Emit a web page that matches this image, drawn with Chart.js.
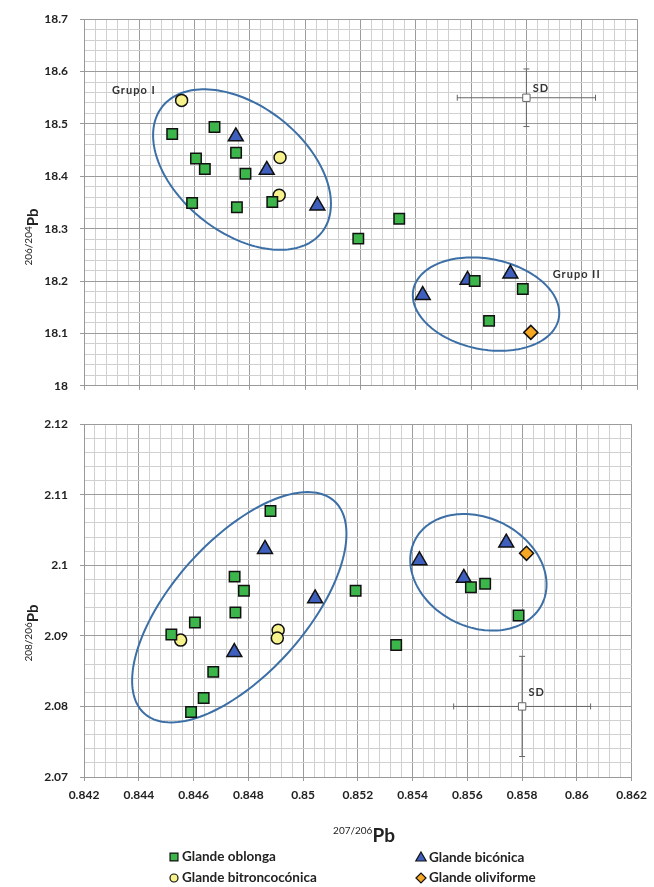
<!DOCTYPE html>
<html>
<head>
<meta charset="utf-8">
<script src="https://cdn.jsdelivr.net/npm/chart.js@4.4.0/dist/chart.umd.min.js"></script>
<style>
  body { margin: 0; background: #fff; }
  #wrap { position: relative; width: 654px; height: 887px; }
  canvas { position: absolute; left: 0; }
  #topChart { top: 0; }
  #bottomChart { top: 405px; }
</style>
</head>
<body>
<div id="wrap">
  <canvas id="topChart" width="654" height="405"></canvas>
  <canvas id="bottomChart" width="654" height="482"></canvas>
</div>
<script>
// ---- data: 207/206Pb (shared by both panels), 206/204Pb (top), 208/206Pb (bottom)
var oblongaX   = [0.84519, 0.84672, 0.84750, 0.84605, 0.84637, 0.84784, 0.84881, 0.84591, 0.84753, 0.85340, 0.85192, 0.85613, 0.85787, 0.85665];
var oblongaTop = [18.481, 18.494, 18.445, 18.434, 18.414, 18.405, 18.351, 18.349, 18.341, 18.319, 18.281, 18.200, 18.185, 18.124];
var oblongaBot = [2.0902, 2.0849, 2.0984, 2.0919, 2.0812, 2.0964, 2.1077, 2.0792, 2.0933, 2.0887, 2.0964, 2.0969, 2.0929, 2.0974];

var biconicaX   = [0.84749, 0.84861, 0.85044, 0.85587, 0.85742, 0.85425];
var biconicaTop = [18.476, 18.412, 18.344, 18.202, 18.214, 18.173];
var biconicaBot = [2.0877, 2.1023, 2.0953, 2.0982, 2.1032, 2.1007];

var bitroncoX   = [0.84553, 0.84909, 0.84906];
var bitroncoTop = [18.545, 18.436, 18.364];
var bitroncoBot = [2.0894, 2.0908, 2.0897];

var oliviX   = [0.85816];
var oliviTop = [18.102];
var oliviBot = [2.1017];

// standard deviation cross
var sdX = 0.858, sdErrX = 0.0025;
var sdTopY = 18.55, sdTopErr = 0.055;
var sdBotY = 2.08, sdBotErr = 0.0071;

// group ellipses: centre and the ends of two half axes, in data units
var ellipsesTop = [
  { c: [0.847715, 18.4129], u: [0.850569, 18.2909], v: [0.846232, 18.3202] },
  { c: [0.856540, 18.1560], u: [0.859166, 18.1278], v: [0.856200, 18.0714] }
];
var ellipsesBot = [
  { c: [0.847671, 2.094056], u: [0.851126, 2.109153], v: [0.849509, 2.087847] },
  { c: [0.856403, 2.099014], u: [0.858711, 2.094389], v: [0.855473, 2.092167] }
];

var notesTop = [
  { text: 'Grupo I', x: 0.84301, y: 18.564 },
  { text: 'Grupo II', x: 0.85895, y: 18.213 },
  { text: 'SD', x: 0.85823, y: 18.568 }
];
var notesBot = [
  { text: 'SD', x: 0.85823, y: 2.08204 }
];

var GREEN = '#3cb54a', BLUE = '#3f5fbf', YELLOW = '#f8f28c', ORANGE = '#f5a623';
var FONT = 'Lato, "Open Sans", sans-serif';
var MAJOR = '#9c9c9c', MINOR = '#d0d0d0';

function isMajor(v, step) {
  var r = v / step;
  return Math.abs(r - Math.round(r)) < 1e-6;
}

function pts(xs, ys) {
  return xs.map(function(x, i) { return { x: x, y: ys[i] }; });
}

function series(label, xs, ys, style, color, radius) {
  return {
    label: label,
    data: pts(xs, ys),
    pointStyle: style,
    pointRadius: radius,
    pointHoverRadius: radius,
    pointBackgroundColor: color,
    pointBorderColor: '#111',
    pointBorderWidth: 1.5
  };
}

function drawSup(ctx, x, y, sup, main, supSize, mainSize, rotated) {
  ctx.save();
  ctx.translate(x, y);
  if (rotated) ctx.rotate(-Math.PI / 2);
  ctx.fillStyle = '#222';
  ctx.textBaseline = 'alphabetic';
  ctx.textAlign = 'left';
  var supFont = supSize + 'px ' + FONT, mainFont = 'bold ' + mainSize + 'px ' + FONT;
  ctx.font = supFont;
  var ws = ctx.measureText(sup).width;
  ctx.font = mainFont;
  var wm = ctx.measureText(main).width;
  var x0 = -(ws + wm) / 2, base = mainSize * 0.35;
  ctx.font = supFont;
  ctx.fillText(sup, x0, base - mainSize * 0.42);
  ctx.font = mainFont;
  ctx.fillText(main, x0 + ws, base);
  ctx.restore();
}

function extras(cfg) {
  return {
    id: 'extras',
    beforeDatasetsDraw: function(chart) {
      var ctx = chart.ctx, xs = chart.scales.x, ys = chart.scales.y;
      ctx.save();
      // error bars of the SD cross
      ctx.strokeStyle = '#666';
      ctx.lineWidth = 1;
      var cx = xs.getPixelForValue(sdX), cy = ys.getPixelForValue(cfg.sdY);
      var x1 = xs.getPixelForValue(sdX - sdErrX), x2 = xs.getPixelForValue(sdX + sdErrX);
      var y1 = ys.getPixelForValue(cfg.sdY + cfg.sdErr), y2 = ys.getPixelForValue(cfg.sdY - cfg.sdErr);
      ctx.beginPath();
      ctx.moveTo(x1, cy); ctx.lineTo(x2, cy);
      ctx.moveTo(x1, cy - 3); ctx.lineTo(x1, cy + 3);
      ctx.moveTo(x2, cy - 3); ctx.lineTo(x2, cy + 3);
      ctx.moveTo(cx, y1); ctx.lineTo(cx, y2);
      ctx.moveTo(cx - 3, y1); ctx.lineTo(cx + 3, y1);
      ctx.moveTo(cx - 3, y2); ctx.lineTo(cx + 3, y2);
      ctx.stroke();

      // group ellipses
      ctx.strokeStyle = '#3b6fa6';
      ctx.lineWidth = 2;
      cfg.ellipses.forEach(function(e) {
        var ex = xs.getPixelForValue(e.c[0]), ey = ys.getPixelForValue(e.c[1]);
        var ux = xs.getPixelForValue(e.u[0]) - ex, uy = ys.getPixelForValue(e.u[1]) - ey;
        var vx = xs.getPixelForValue(e.v[0]) - ex, vy = ys.getPixelForValue(e.v[1]) - ey;
        ctx.beginPath();
        for (var i = 0; i <= 160; i++) {
          var t = i / 160 * Math.PI * 2;
          var px = ex + ux * Math.cos(t) + vx * Math.sin(t);
          var py = ey + uy * Math.cos(t) + vy * Math.sin(t);
          if (i === 0) ctx.moveTo(px, py); else ctx.lineTo(px, py);
        }
        ctx.closePath();
        ctx.stroke();
      });

      // text notes
      ctx.fillStyle = '#333';
      ctx.font = 'bold 11px ' + FONT;
      ctx.letterSpacing = '1px';
      ctx.textBaseline = 'middle';
      ctx.textAlign = 'left';
      cfg.notes.forEach(function(n) {
        ctx.fillText(n.text, xs.getPixelForValue(n.x), ys.getPixelForValue(n.y));
      });
      ctx.restore();
    },
    afterDraw: function(chart) {
      var ctx = chart.ctx;
      drawSup(ctx, 33, cfg.yTitleAt, cfg.yTitle[0], cfg.yTitle[1], 10, 15, true);
      if (cfg.legend) {
        drawSup(ctx, 364, 430, '207/206', 'Pb', 10, 19, false);
        var items = [
          { text: 'Glande oblonga', style: 'rect', r: 5.6, color: GREEN, x: 174, y: 452 },
          { text: 'Glande bitroncocónica', style: 'circle', r: 4, color: YELLOW, x: 174, y: 473 },
          { text: 'Glande bicónica', style: 'triangle', r: 6, color: BLUE, x: 421, y: 453 },
          { text: 'Glande oliviforme', style: 'rectRot', r: 5, color: ORANGE, x: 421, y: 473 }
        ];
        ctx.save();
        items.forEach(function(it) {
          ctx.fillStyle = it.color;
          ctx.strokeStyle = '#111';
          ctx.lineWidth = 1.2;
          Chart.helpers.drawPoint(ctx, { pointStyle: it.style, radius: it.r, rotation: 0, borderWidth: 1.2 }, it.x, it.y);
          ctx.fillStyle = '#222';
          ctx.font = 'bold 13.5px ' + FONT;
          ctx.textBaseline = 'middle';
          ctx.textAlign = 'left';
          ctx.fillText(it.text, it.x + 8, it.y);
        });
        ctx.restore();
      }
    }
  };
}

function panel(id, cfg) {
  var xStep = 0.0004, xMajor = 0.002;
  return new Chart(document.getElementById(id), {
    type: 'scatter',
    data: {
      datasets: [
        { label: 'SD', data: [{ x: sdX, y: cfg.sdY }], pointStyle: 'rect', pointRadius: 5.2, pointHoverRadius: 5.2,
          pointBackgroundColor: '#fff', pointBorderColor: '#666', pointBorderWidth: 1 },
        series('Glande oblonga', oblongaX, cfg.oblonga, 'rect', GREEN, 7.4),
        series('Glande bitroncocónica', bitroncoX, cfg.bitronco, 'circle', YELLOW, 6),
        series('Glande bicónica', biconicaX, cfg.biconica, 'triangle', BLUE, 8.6),
        series('Glande oliviforme', oliviX, cfg.olivi, 'rectRot', ORANGE, 7)
      ]
    },
    options: {
      responsive: false,
      animation: false,
      devicePixelRatio: 1,
      layout: { padding: { left: 0, right: 17, top: cfg.padTop, bottom: 0 } },
      plugins: { legend: { display: false }, tooltip: { enabled: false } },
      scales: {
        x: {
          type: 'linear', min: 0.842, max: 0.862,
          afterFit: function(s) { s.height = cfg.xHeight; },
          border: { color: '#999' },
          grid: {
            color: function(c) { return isMajor(c.tick.value, xMajor) ? MAJOR : MINOR; },
            tickColor: function(c) { return isMajor(c.tick.value, xMajor) ? '#999' : 'rgba(0,0,0,0)'; },
            tickLength: 4
          },
          ticks: {
            display: cfg.xLabels,
            stepSize: xStep, autoSkip: false, maxRotation: 0, padding: 7,
            color: '#222', font: { family: FONT, size: 12, weight: 'bold' },
            callback: function(v) { return isMajor(v, xMajor) ? String(parseFloat(v.toFixed(4))) : ''; }
          }
        },
        y: {
          type: 'linear', min: cfg.yMin, max: cfg.yMax,
          afterFit: function(s) { s.width = 84; },
          border: { color: '#999' },
          grid: {
            color: function(c) { return isMajor(c.tick.value - cfg.yMin, cfg.yMajor) ? MAJOR : MINOR; },
            tickColor: function(c) { return isMajor(c.tick.value - cfg.yMin, cfg.yMajor) ? '#999' : 'rgba(0,0,0,0)'; },
            tickLength: 4
          },
          ticks: {
            stepSize: cfg.yStep, autoSkip: false, padding: 12,
            color: '#222', font: { family: FONT, size: 12, weight: 'bold' },
            callback: function(v) { return isMajor(v - cfg.yMin, cfg.yMajor) ? String(parseFloat(v.toFixed(4))) : ''; }
          }
        }
      }
    },
    plugins: [extras(cfg)]
  });
}

panel('topChart', {
  yMin: 18, yMax: 18.7, yStep: 0.02, yMajor: 0.1,
  padTop: 19, xHeight: 11, xLabels: false,
  oblonga: oblongaTop, biconica: biconicaTop, bitronco: bitroncoTop, olivi: oliviTop,
  sdY: sdTopY, sdErr: sdTopErr,
  ellipses: ellipsesTop, notes: notesTop,
  yTitle: ['206/204', 'Pb'], yTitleAt: 237, legend: false
});

panel('bottomChart', {
  yMin: 2.07, yMax: 2.12, yStep: 0.002, yMajor: 0.01,
  padTop: 12, xHeight: 110, xLabels: true,
  oblonga: oblongaBot, biconica: biconicaBot, bitronco: bitroncoBot, olivi: oliviBot,
  sdY: sdBotY, sdErr: sdBotErr,
  ellipses: ellipsesBot, notes: notesBot,
  yTitle: ['208/206', 'Pb'], yTitleAt: 228, legend: true
});
</script>
</body>
</html>
